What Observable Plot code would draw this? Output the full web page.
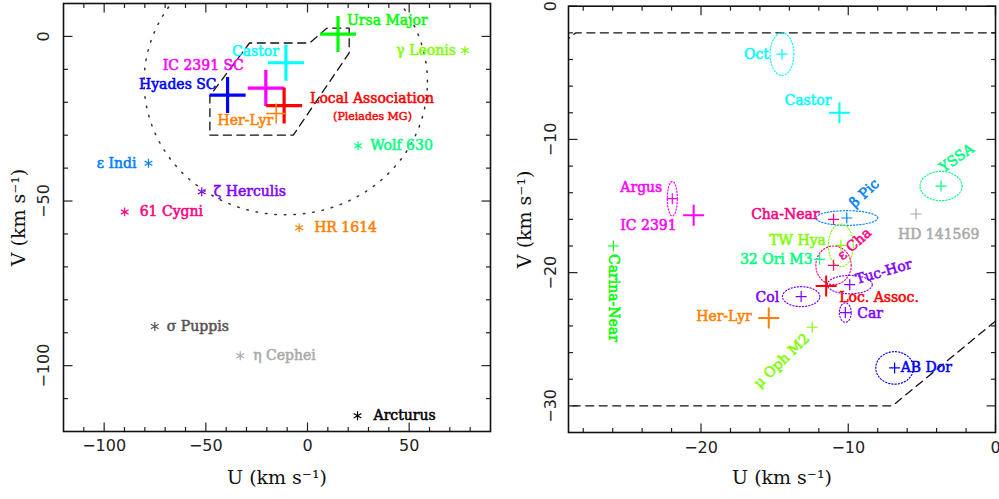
<!DOCTYPE html>
<html>
<head>
<meta charset="utf-8">
<script src="https://cdn.jsdelivr.net/npm/d3@7"></script>
<script src="https://cdn.jsdelivr.net/npm/@observablehq/plot@0.6"></script>
<style>
  body { margin: 0; background: #fff; }
  #wrap { position: relative; width: 999px; height: 499px; overflow: hidden; background: #fff; }
  #left, #right { position: absolute; top: 0; }
  #left { left: 0; }
  #right { left: 500px; }
</style>
</head>
<body>
<div id="wrap"><div id="left"></div><div id="right"></div></div>
<script>
// PGPLOT colour indices used for the groups and stars
const RED = "#ff0000", GREEN = "#00ff00", BLUE = "#0000ff", CYAN = "#00ffff",
      MAGENTA = "#ff00ff", ORANGE = "#ff8000", YELLOWGREEN = "#80ff00",
      GREENCYAN = "#00ff80", BLUECYAN = "#0080ff", BLUEMAGENTA = "#8000ff",
      REDMAGENTA = "#ff0080", DARKGRAY = "#555555", LIGHTGRAY = "#aaaaaa", BLACK = "#000000";

// ---- Left panel: moving groups and single stars in the U-V plane ----
const groupNames = ["Ursa Major", "Castor", "IC 2391 SC", "Hyades SC", "Local Association", "Her-Lyr"];
const groupU     = [15.0, -10.6, -20.5, -39.3, -11.5, -15.4];
const groupV     = [0.7, -8.0, -15.7, -17.8, -21.0, -23.4];
const groupColor = [GREEN, CYAN, MAGENTA, BLUE, RED, ORANGE];

const starNames = ["γ Leonis", "Wolf 630", "ε Indi", "ζ Herculis", "61 Cygni", "HR 1614", "σ Puppis", "η Cephei", "Arcturus"];
const starU     = [77.4, 24.9, -78.2, -52.0, -89.9, -4.1, -75.1, -33.1, 24.6];
const starV     = [-4.3, -33.2, -38.5, -47.2, -53.3, -58.1, -88.1, -97.0, -115.2];
const starColor = [YELLOWGREEN, GREENCYAN, BLUECYAN, BLUEMAGENTA, REDMAGENTA, ORANGE, DARKGRAY, LIGHTGRAY, BLACK];

// Young-disk envelope (centre and semi-axes, km/s)
const diskCentre = [-10.7, -13.8];
const diskSemiAxes = [69.7, 40.4];

// Boundary of the young-disc box (dashed), vertices in U, V
const boxU = [-48, -7, 20.5, 20.5, 9.5, 1, -28.5, -48, -48];
const boxV = [-30, -30, -5, 2.5, 2.5, -2, -2, -18, -30];

// ---- Right panel: young associations ----
const assocNames = ["Oct", "Argus", "Cha-Near", "β Pic", "YSSA", "HD 141569", "TW Hya", "ε Cha", "32 Ori M3",
                    "Tuc-Hor", "Col", "Car", "μ Oph M2", "AB Dor", "Carina-Near"];
const assocU = [-14.5, -21.95, -11.0, -10.1, -3.7, -5.4, -10.5, -11.0, -11.95, -9.9, -13.2, -10.2, -12.45, -6.85, -25.95];
const assocV = [-3.6, -14.45, -16.0, -15.9, -13.5, -15.6, -17.95, -19.45, -19.0, -20.9, -21.8, -23.0, -24.1, -27.15, -18.0];
const assocSigU = [0.81, 0.34, null, 2.1, 1.43, null, 0.85, 1.2, null, 1.53, 1.27, 0.4, null, 1.28, null];
const assocSigV = [1.6, 1.3, null, 0.55, 1.1, null, 1.6, 1.45, null, 0.69, 0.75, 0.73, null, 1.22, null];
const assocColor = [CYAN, MAGENTA, REDMAGENTA, BLUECYAN, GREENCYAN, LIGHTGRAY, YELLOWGREEN, REDMAGENTA, GREENCYAN,
                    BLUEMAGENTA, BLUEMAGENTA, BLUEMAGENTA, YELLOWGREEN, BLUE, GREEN];

const kinNames = ["Castor", "IC 2391", "Loc. Assoc.", "Her-Lyr"];
const kinU = [-10.6, -20.5, -11.5, -15.4];
const kinV = [-8.0, -15.7, -21.0, -23.4];
const kinColor = [CYAN, MAGENTA, RED, ORANGE];

// Axis ticks
const leftUTicks = [-100, -50, 0, 50];
const leftVTicks = [-100, -50, 0];
const rightUTicks = [-20, -10, 0];
const rightVTicks = [-30, -20, -10, 0];

// ---- label placement (pixel offsets from the plotted point) ----
const leftLabelLayout = {
  "Ursa Major":        {dx: 9,   dy: -14, anchor: "start"},
  "Castor":            {dx: -7,  dy: -11, anchor: "end"},
  "IC 2391 SC":        {dx: -22, dy: -23, anchor: "end"},
  "Hyades SC":         {dx: -11, dy: -11, anchor: "end"},
  "Local Association": {dx: 26,  dy: -7,  anchor: "start"},
  "Her-Lyr":           {dx: -3,  dy: 7,   anchor: "end"},
  "γ Leonis":          {dx: -9,  dy: 0,   anchor: "end"},
  "Wolf 630":          {dx: 12,  dy: 0,   anchor: "start"},
  "ε Indi":            {dx: -12, dy: 0,   anchor: "end"},
  "ζ Herculis":        {dx: 12,  dy: 0,   anchor: "start"},
  "61 Cygni":          {dx: 15,  dy: 0,   anchor: "start"},
  "HR 1614":           {dx: 15,  dy: 0,   anchor: "start"},
  "σ Puppis":          {dx: 12,  dy: 0,   anchor: "start"},
  "η Cephei":          {dx: 13,  dy: 0,   anchor: "start"},
  "Arcturus":          {dx: 16,  dy: 0,   anchor: "start"}
};
const rightLabelLayout = {
  "Oct":         {dx: -13, dy: 0,   anchor: "end"},
  "Argus":       {dx: -10, dy: -11, anchor: "end"},
  "Cha-Near":    {dx: -14, dy: -5,  anchor: "end"},
  "β Pic":       {dx: 5,   dy: -13, anchor: "start", rotate: -43},
  "YSSA":        {dx: 0,   dy: -17, anchor: "start", rotate: -35},
  "HD 141569":   {dx: -18, dy: 20,  anchor: "start"},
  "TW Hya":      {dx: -15, dy: -5,  anchor: "end"},
  "ε Cha":       {dx: 6,   dy: -8,  anchor: "start", rotate: -42},
  "32 Ori M3":   {dx: -7,  dy: 0,   anchor: "end"},
  "Tuc-Hor":     {dx: 6,   dy: -5,  anchor: "start", rotate: -16},
  "Col":         {dx: -22, dy: 1,   anchor: "end"},
  "Car":         {dx: 12,  dy: 1,   anchor: "start"},
  "μ Oph M2":    {dx: -5,  dy: 9,   anchor: "end", rotate: -44},
  "AB Dor":      {dx: 6,   dy: 0,   anchor: "start"},
  "Carina-Near": {dx: 0,   dy: 8,   anchor: "start", rotate: 90},
  "Castor":      {dx: -8,  dy: -12, anchor: "end"},
  "IC 2391":     {dx: -17, dy: 10,  anchor: "end"},
  "Loc. Assoc.": {dx: 13,  dy: 12,  anchor: "start"},
  "Her-Lyr":     {dx: -17, dy: -1,  anchor: "end"}
};

const LABEL_FONT = "'DejaVu Serif', serif";
const TICK_FONT = "'DejaVu Sans', sans-serif";
const minus = d => d < 0 ? "\u2212" + Math.abs(d) : String(d);

// Symbols sized in pixels: r is the arm length
const armLen = size => Math.sqrt(size / Math.PI);
const plusSymbol = {draw(ctx, size) {
  const l = armLen(size);
  ctx.moveTo(-l, 0); ctx.lineTo(l, 0); ctx.moveTo(0, -l); ctx.lineTo(0, l);
}};
const segment = (ux, uy) => ({draw(ctx, size) {
  const l = armLen(size);
  ctx.moveTo(0, 0); ctx.lineTo(ux * l, uy * l);
}});

// Inward ticks on all four sides of the frame
function frameTicks(uMajor, uMinor, vMajor, vMinor) {
  const st = {stroke: "#222", strokeWidth: 1.2, fill: "none"};
  const marks = [];
  for (const [anchor, sx, sy] of [["bottom", 0, -1], ["top", 0, 1]]) {
    marks.push(Plot.dot(uMajor, {x: d => d, frameAnchor: anchor, symbol: segment(sx, sy), r: 9, ...st}));
    marks.push(Plot.dot(uMinor, {x: d => d, frameAnchor: anchor, symbol: segment(sx, sy), r: 4.5, ...st}));
  }
  for (const [anchor, sx, sy] of [["left", 1, 0], ["right", -1, 0]]) {
    marks.push(Plot.dot(vMajor, {y: d => d, frameAnchor: anchor, symbol: segment(sx, sy), r: 9, ...st}));
    marks.push(Plot.dot(vMinor, {y: d => d, frameAnchor: anchor, symbol: segment(sx, sy), r: 4.5, ...st}));
  }
  return marks;
}

function axisTexts(uMajor, vMajor, yLabelDx, xLabelDy, titleDx, titleDy) {
  const txt = {fontFamily: TICK_FONT, fontSize: 16, fill: "#222", textAnchor: "middle"};
  const ttl = {fontFamily: LABEL_FONT, fontSize: 19, fill: "#111", textAnchor: "middle"};
  return [
    Plot.text(uMajor, {x: d => d, frameAnchor: "bottom", dy: xLabelDy, text: minus, ...txt}),
    Plot.text(vMajor, {y: d => d, frameAnchor: "left", dx: yLabelDx, rotate: -90, text: minus, ...txt}),
    Plot.text(["U (km s\u207B\u00B9)"], {frameAnchor: "bottom", dy: titleDy, text: d => d, ...ttl}),
    Plot.text(["V (km s\u207B\u00B9)"], {frameAnchor: "left", dx: titleDx, rotate: -90, text: d => d, ...ttl})
  ];
}

function ellipseOutline(cu, cv, au, av) {
  return d3.range(0, 361, 4).map(t => {
    const a = t * Math.PI / 180;
    return {u: cu + au * Math.cos(a), v: cv + av * Math.sin(a)};
  });
}

function label(name, u, v, color, layout, extra = {}) {
  const L = layout[name];
  return Plot.text([name], {
    x: () => u, y: () => v, text: d => d,
    dx: L.dx, dy: L.dy, textAnchor: L.anchor, rotate: L.rotate || 0,
    fill: color, stroke: color, strokeWidth: 0.55,
    fontFamily: LABEL_FONT, fontSize: 14, ...extra
  });
}

const box = boxU.map((u, i) => ({u, v: boxV[i]}));

// ---------------- Left panel ----------------
const leftMarks = [
  Plot.line(ellipseOutline(diskCentre[0], diskCentre[1], diskSemiAxes[0], diskSemiAxes[1]),
    {x: "u", y: "v", stroke: "#333", strokeWidth: 1.5, strokeDasharray: "1.5,8", strokeLinecap: "round", clip: true}),
  Plot.line(box, {x: "u", y: "v", stroke: "#111", strokeWidth: 1.3, strokeDasharray: "8,5.5", clip: true})
];
groupNames.forEach((n, i) => {
  const small = n === "Her-Lyr";
  leftMarks.push(Plot.dot([0], {x: () => groupU[i], y: () => groupV[i], symbol: plusSymbol,
    r: small ? 10 : 18, stroke: groupColor[i], strokeWidth: small ? 1.5 : 3.2, fill: "none"}));
});
starNames.forEach((n, i) => {
  leftMarks.push(Plot.dot([0], {x: () => starU[i], y: () => starV[i], symbol: "asterisk",
    r: 4.2, stroke: starColor[i], strokeWidth: 1.2}));
});
groupNames.forEach((n, i) => leftMarks.push(label(n, groupU[i], groupV[i], groupColor[i], leftLabelLayout)));
starNames.forEach((n, i) => leftMarks.push(label(n, starU[i], starV[i], starColor[i], leftLabelLayout)));
{
  const i = groupNames.indexOf("Local Association");
  leftMarks.push(Plot.text(["(Pleiades MG)"], {x: () => groupU[i], y: () => groupV[i], text: d => d,
    dx: 49, dy: 11, textAnchor: "start", fill: RED, stroke: RED, strokeWidth: 0.45,
    fontFamily: LABEL_FONT, fontSize: 11}));
}
leftMarks.push(
  ...frameTicks(leftUTicks, d3.range(-110, 90, 10).filter(d => !leftUTicks.includes(d)),
                leftVTicks, d3.range(-110, 10, 10).filter(d => !leftVTicks.includes(d))),
  Plot.frame({stroke: "#111", strokeWidth: 1.6}),
  ...axisTexts(leftUTicks, leftVTicks, -20, 19, -45, 52)
);

const leftPlot = Plot.plot({
  width: 500, height: 499,
  marginLeft: 63, marginRight: 10, marginTop: 3, marginBottom: 68,
  x: {domain: [-120, 90], axis: null},
  y: {domain: [-120, 10], axis: null},
  style: {background: "white", overflow: "visible"},
  marks: leftMarks
});
document.getElementById("left").appendChild(leftPlot);

// ---------------- Right panel ----------------
const rightMarks = [
  Plot.line(box, {x: "u", y: "v", stroke: "#111", strokeWidth: 1.3, strokeDasharray: "8,5.5", clip: true})
];
assocNames.forEach((n, i) => {
  if (assocSigU[i] == null) return;
  rightMarks.push(Plot.line(ellipseOutline(assocU[i], assocV[i], assocSigU[i], assocSigV[i]),
    {x: "u", y: "v", stroke: assocColor[i], strokeWidth: 1.2, strokeDasharray: "1.2,2", clip: true}));
});
assocNames.forEach((n, i) => {
  rightMarks.push(Plot.dot([0], {x: () => assocU[i], y: () => assocV[i], symbol: plusSymbol,
    r: 5.5, stroke: assocColor[i], strokeWidth: 1.2, fill: "none"}));
});
kinNames.forEach((n, i) => {
  rightMarks.push(Plot.dot([0], {x: () => kinU[i], y: () => kinV[i], symbol: plusSymbol,
    r: 10.5, stroke: kinColor[i], strokeWidth: 2, fill: "none"}));
});
assocNames.forEach((n, i) => rightMarks.push(label(n, assocU[i], assocV[i], assocColor[i], rightLabelLayout)));
kinNames.forEach((n, i) => rightMarks.push(label(n, kinU[i], kinV[i], kinColor[i], rightLabelLayout)));
rightMarks.push(
  ...frameTicks(rightUTicks, d3.range(-28, 0, 2).filter(d => !rightUTicks.includes(d)),
                rightVTicks, d3.range(-30, 0, 2).filter(d => !rightVTicks.includes(d))),
  Plot.frame({stroke: "#111", strokeWidth: 1.6}),
  ...axisTexts(rightUTicks, rightVTicks, -18, 20, -44, 51)
);

const rightPlot = Plot.plot({
  width: 499, height: 499,
  marginLeft: 68, marginRight: 4, marginTop: 5.7, marginBottom: 67,
  x: {domain: [-29, 0], axis: null},
  y: {domain: [-32, 0], axis: null},
  style: {background: "white", overflow: "visible"},
  marks: rightMarks
});
document.getElementById("right").appendChild(rightPlot);
</script>
</body>
</html>
